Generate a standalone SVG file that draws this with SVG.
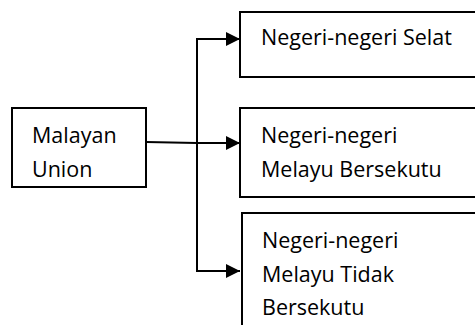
<svg xmlns="http://www.w3.org/2000/svg" width="475" height="325" viewBox="0 0 475 325">
<defs>
<style>
.box{fill:#fff;stroke:#000;stroke-width:2}
.t{font-family:"Open Sans","Noto Sans",sans-serif;font-size:21.5px;fill:#000}
.c{fill:none;stroke:#000;stroke-width:2}
</style>
<marker id="ah" markerWidth="14" markerHeight="14" refX="14" refY="7" orient="auto" markerUnits="userSpaceOnUse">
<path d="M0,0 L14,7 L0,14 Z" fill="#000"/>
</marker>
</defs>
<rect width="475" height="325" fill="#fff"/>
<g id="connectors">
<path class="c" d="M146,142 L197,143 L240,143" marker-end="url(#ah)"/>
<path class="c" d="M240,39 L197,39 L197,271 L240,271" marker-end="url(#ah)"/>
<path class="c" d="M197,39 L240,39" marker-end="url(#ah)"/>
</g>
<g id="malayan-union">
<rect class="box" x="12" y="108" width="134" height="79"/>
<text class="t" x="32" y="143">Malayan</text>
<text class="t" x="32" y="177">Union</text>
</g>
<g id="negeri-selat">
<rect class="box" x="240" y="12" width="245" height="65"/>
<text class="t" x="261" y="45">Negeri-negeri Selat</text>
</g>
<g id="negeri-melayu-bersekutu">
<rect class="box" x="240" y="108" width="245" height="89"/>
<text class="t" x="261" y="143">Negeri-negeri</text>
<text class="t" x="261" y="177">Melayu Bersekutu</text>
</g>
<g id="negeri-melayu-tidak-bersekutu">
<rect class="box" x="242" y="213" width="245" height="125"/>
<text class="t" x="262" y="248">Negeri-negeri</text>
<text class="t" x="262" y="282">Melayu Tidak</text>
<text class="t" x="262" y="315">Bersekutu</text>
</g>
</svg>
